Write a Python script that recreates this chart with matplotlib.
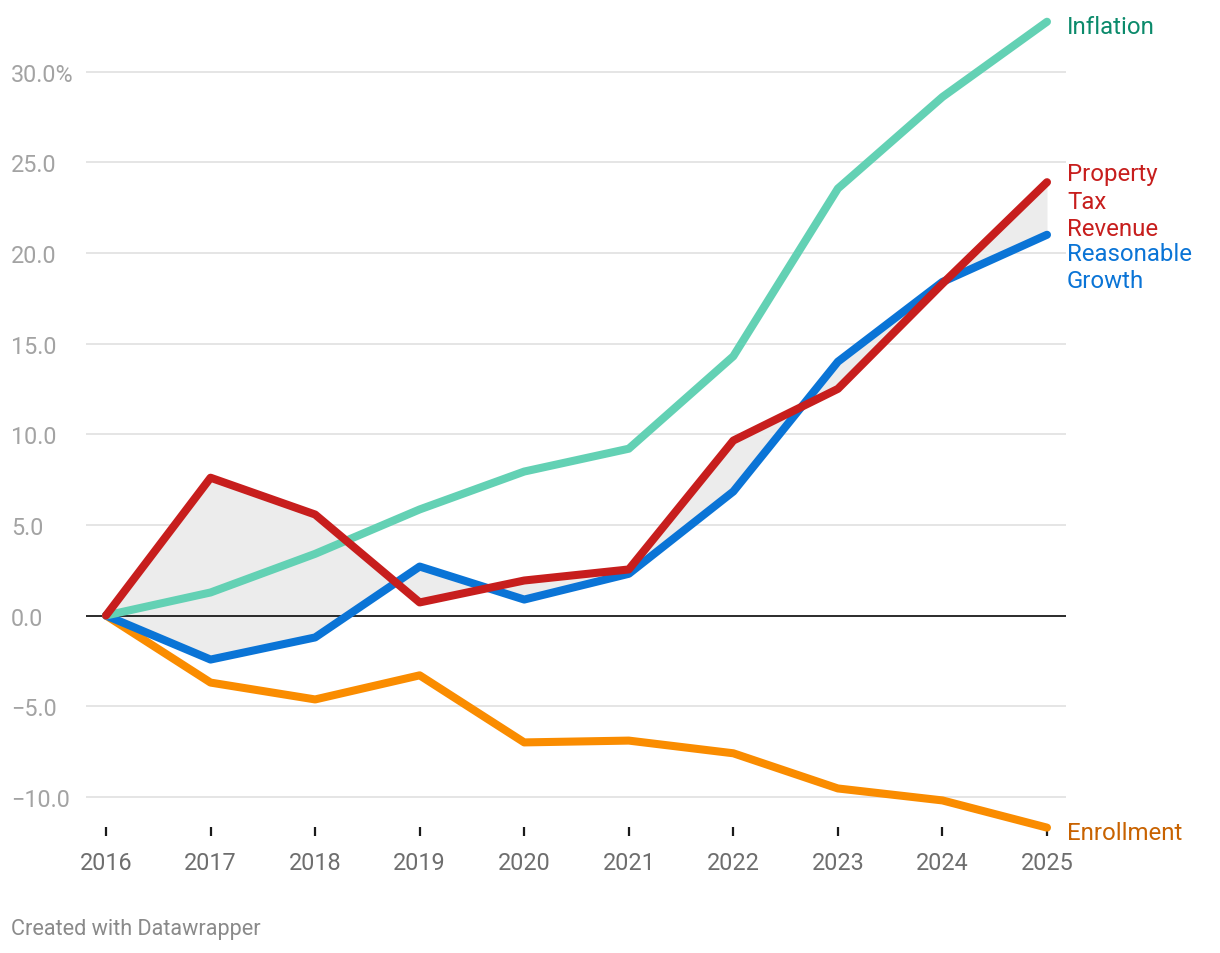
import numpy as np
import matplotlib.pyplot as plt

plt.rcParams['font.family'] = ['Roboto', 'DejaVu Sans']

years = [2016, 2017, 2018, 2019, 2020, 2021, 2022, 2023, 2024, 2025]
inflation = [0, 1.27, 3.4, 5.85, 7.94, 9.2, 14.3, 23.55, 28.6, 32.75]
property_tax = [0, 7.6, 5.57, 0.72, 1.93, 2.54, 9.65, 12.5, 18.3, 23.9]
reasonable = [0, -2.43, -1.21, 2.7, 0.88, 2.3, 6.84, 14.0, 18.4, 21.0]
enrollment = [0, -3.7, -4.63, -3.3, -7.0, -6.9, -7.6, -9.54, -10.2, -11.7]

yticks = [-10, -5, 0, 5, 10, 15, 20, 25, 30]
ytick_labels = ['\u221210.0', '\u22125.0', '0.0', '5.0', '10.0', '15.0', '20.0', '25.0', '30.0%']

W, H = 1220, 954
fig = plt.figure(figsize=(W / 100, H / 100), dpi=100)
# axes spans pixels x 86..1066, y 10..837
ax = fig.add_axes([86 / W, 1 - 837 / H, (1066 - 86) / W, (837 - 10) / H])

x0 = 2016 - 20 * 9 / 941
x1 = 2025 + 19 * 9 / 941
ax.set_xlim(x0, x1)
zero_px = 616.5
y_hi = (zero_px - 10) / 18.13
y_lo = (zero_px - 837) / 18.13
ax.set_ylim(y_lo, y_hi)

for s in ax.spines.values():
    s.set_visible(False)

# grid
for v in yticks:
    if v == 0:
        ax.axhline(0, color='#1a1a1a', lw=1.3, zorder=3)
    else:
        ax.axhline(v, color='#e3e3e3', lw=1.3, zorder=0)

ax.fill_between(years, property_tax, reasonable, color='#ececec', zorder=1, lw=0)

lw = 5.8
ax.plot(years, enrollment, color='#fa8c00', lw=lw, solid_capstyle='round', solid_joinstyle='round', zorder=4)
ax.plot(years, reasonable, color='#0a74d6', lw=lw, solid_capstyle='round', solid_joinstyle='round', zorder=5)
ax.plot(years, inflation, color='#63d1b4', lw=lw, solid_capstyle='round', solid_joinstyle='round', zorder=6)
ax.plot(years, property_tax, color='#c71e1d', lw=lw, solid_capstyle='round', solid_joinstyle='round', zorder=7)

ax.set_yticks(yticks)
ax.set_yticklabels(ytick_labels)
ax.tick_params(axis='y', length=0, pad=54, labelsize=16.8, labelcolor='#a3a3a3')
for t in ax.get_yticklabels():
    t.set_horizontalalignment('left')

ax.set_xticks(years)
ax.set_xticklabels([str(y) for y in years])
ax.tick_params(axis='x', direction='in', length=6.5, width=1.6, color='#1a1a1a',
               pad=11, labelsize=16.8, labelcolor='#6e6e6e')
ax.set_axisbelow(False)

# end labels
labels = [
    ('Inflation', inflation[-1], '#0b8a6b', -5),
    ('Property\nTax\nRevenue', property_tax[-1], '#c71e1d', -19),
    ('Reasonable\nGrowth', reasonable[-1], '#0a74d6', -32),
    ('Enrollment', enrollment[-1], '#c86200', -5),
]
for txt, yv, col, dy in labels:
    ax.annotate(txt, xy=(years[-1], yv), xytext=(20 * 0.72, dy * 0.72),
                textcoords='offset points', ha='left', va='center',
                fontsize=17.3, color=col, linespacing=1.25, annotation_clip=False)

fig.text(11 / W, 1 - 930 / H, 'Created with Datawrapper', fontsize=15.6,
         color='#8a8a8a', ha='left', va='center')

fig.savefig('out.png', dpi=100)
